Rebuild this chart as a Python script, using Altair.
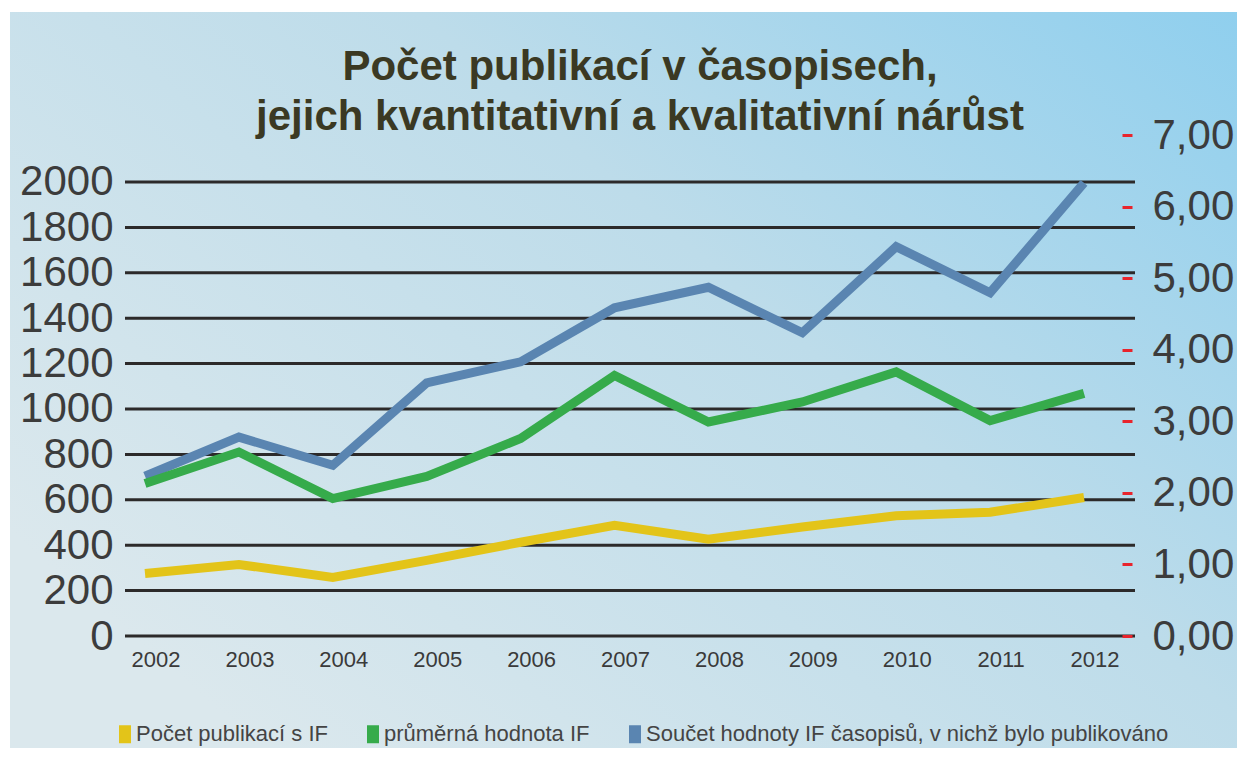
import altair as alt
import pandas as pd

years = list(range(2002, 2013))
pocet = [275, 315, 258, 333, 413, 488, 426, 480, 530, 545, 610]
prumer = [2.13, 2.57, 1.92, 2.23, 2.76, 3.64, 2.99, 3.27, 3.69, 3.01, 3.39]
soucet = [704, 876, 752, 1115, 1208, 1446, 1536, 1336, 1715, 1512, 1996]

series_names = [
    "Počet publikací s IF",
    "průměrná hodnota IF",
    "Součet hodnoty IF časopisů, v nichž bylo publikováno",
]
series_colors = ["#e3c419", "#36ab4b", "#5a85b1"]
left_ticks = list(range(0, 2001, 200))
right_ticks = [0, 1, 2, 3, 4, 5, 6, 7]
title_lines = ["Počet publikací v časopisech,", "jejich kvantitativní a kvalitativní nárůst"]

rows = []
for name, vals in zip(series_names, [pocet, prumer, soucet]):
    for y, v in zip(years, vals):
        rows.append({"rok": y, "rada": name, "hodnota": v})
df = pd.DataFrame(rows)
grid_df = pd.DataFrame({"hodnota": left_ticks})

FONT = "Liberation Sans"

x_enc = alt.X(
    "rok:Q",
    scale=alt.Scale(domain=[2001.787, 2012.543], nice=False, zero=False),
    axis=alt.Axis(
        values=years, format="d", title=None, grid=False, domain=False, ticks=False,
        labelFont=FONT, labelFontSize=22, labelColor="#3a3a3a", labelPadding=3,
        translate=11, labelFlush=False, labelOverlap=False, zindex=1,
    ),
)

color_enc = alt.Color(
    "rada:N",
    scale=alt.Scale(domain=series_names, range=series_colors),
    legend=alt.Legend(
        title=None, orient="none", direction="horizontal", legendX=-11, legendY=588,
        symbolType="M-0.45,-1H0.45V1H-0.45Z", symbolSize=121, symbolStrokeWidth=7,
        labelFont=FONT, labelFontSize=22, labelColor="#444444", labelLimit=0,
        labelOffset=0, columnPadding=28, padding=0, zindex=1,
    ),
)

bg = alt.Chart(alt.Data(values=[{"a": 1}])).mark_rect(
    color=alt.LinearGradient(
        gradient="linear", x1=0, y1=0.7, x2=1, y2=0,
        stops=[
            alt.GradientStop(color="#dbe8ed", offset=0),
            alt.GradientStop(color="#bddcea", offset=0.55),
            alt.GradientStop(color="#8fcfee", offset=1),
        ],
    )
).encode(
    x=alt.value(-115), x2=alt.value(1120), y=alt.value(-123), y2=alt.value(620)
)

grid = alt.Chart(grid_df).mark_rule(color="#2c2a2a", strokeWidth=3).encode(
    y=alt.Y("hodnota:Q", scale=alt.Scale(domain=[0, 2207], nice=False), axis=None)
)

left = alt.Chart(df).transform_filter(
    alt.FieldOneOfPredicate(field="rada", oneOf=[series_names[0], series_names[2]])
).mark_line(strokeWidth=9, strokeJoin="miter").encode(
    x=x_enc,
    y=alt.Y(
        "hodnota:Q",
        scale=alt.Scale(domain=[0, 2207], nice=False),
        axis=alt.Axis(
            values=left_ticks, format="d", title=None, grid=False, domain=False,
            ticks=False, labelFont=FONT, labelFontSize=42, labelColor="#3c3c3c",
            labelPadding=12, zindex=1,
        ),
    ),
    color=color_enc,
    detail="rada:N",
)

right = alt.Chart(df).transform_filter(
    alt.FieldEqualPredicate(field="rada", equal=series_names[1])
).mark_line(strokeWidth=9, strokeJoin="miter").encode(
    x=x_enc,
    y=alt.Y(
        "hodnota:Q",
        scale=alt.Scale(domain=[0, 7], nice=False),
        axis=alt.Axis(
            orient="right", values=right_ticks, title=None, grid=False, domain=False,
            ticks=True, tickColor="#e8242c", tickWidth=3, tickSize=10, offset=-13,
            labelExpr="replace(format(datum.value, '.2f'), '.', ',')",
            labelFont=FONT, labelFontSize=42, labelColor="#3c3c3c",
            labelPadding=20, zindex=1,
        ),
    ),
    color=color_enc,
)

chart = alt.layer(bg, grid, left, right).resolve_scale(y="independent").properties(
    width=1010,
    height=501,
    autosize=alt.AutoSizeParams(type="none"),
    padding={"left": 117, "top": 127, "right": 102, "bottom": 112},
    background="#ffffff",
    title=alt.TitleParams(
        text=title_lines, font=FONT, fontWeight="bold", fontSize=42,
        color="#3b3923", lineHeight=50, anchor="middle", dx=10, offset=-127,
    ),
).configure_view(stroke=None)

chart.save("out.html", embed_options={"renderer": "svg", "actions": False})
